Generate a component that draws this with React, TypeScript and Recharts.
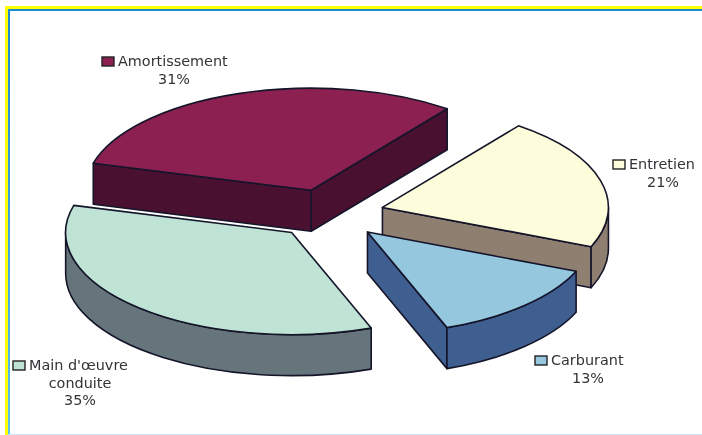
import { PieChart, Pie } from "recharts";

const categories = ["Entretien", "Amortissement", "Main d'œuvre conduite", "Carburant"];
const shares = [21, 31, 35, 13];

const chartData = categories.map((name, i) => ({ name, value: shares[i] }));

const topColors: Record<string, string> = {
  Entretien: "#fdfddc",
  Amortissement: "#8c2151",
  "Main d'œuvre conduite": "#bfe3d5",
  Carburant: "#95c7df",
};
const sideColors: Record<string, string> = {
  Entretien: "#8f7f71",
  Amortissement: "#4a1030",
  "Main d'œuvre conduite": "#65757b",
  Carburant: "#3f5f90",
};

// where each legend-like label sits, the source chart placed them by hand
const labelSpots: Record<string, { x: number; y: number; lines: string[]; cx: number }> = {
  Entretien: { x: 613, y: 160, lines: ["Entretien"], cx: 663 },
  Amortissement: { x: 102, y: 57, lines: ["Amortissement"], cx: 174 },
  "Main d'œuvre conduite": { x: 13, y: 361, lines: ["Main d'œuvre", "conduite"], cx: 80 },
  Carburant: { x: 535, y: 356, lines: ["Carburant"], cx: 588 },
};

const TILT = 0.452; // ellipse squash
const DEPTH = 41;
const EXPLODE = 0.245;
const INK = "#15152a";

function Wedge(props: any) {
  const { cx, cy, outerRadius, startAngle, endAngle, name } = props;
  const rx = outerRadius;
  const ry = outerRadius * TILT;
  const mid = (startAngle + endAngle) / 2;
  const rad = (a: number) => (a * Math.PI) / 180;
  const ox = cx + EXPLODE * rx * Math.cos(rad(mid));
  const oy = cy - EXPLODE * ry * Math.sin(rad(mid));
  const pt = (a: number) => ({ x: ox + rx * Math.cos(rad(a)), y: oy - ry * Math.sin(rad(a)) });
  const a = pt(startAngle);
  const b = pt(endAngle);
  const large = endAngle - startAngle > 180 ? 1 : 0;
  const top = `M${ox},${oy} L${a.x},${a.y} A${rx},${ry} 0 ${large} 0 ${b.x},${b.y} Z`;

  const face = (p: { x: number; y: number }, q: { x: number; y: number }) =>
    `M${p.x},${p.y} L${q.x},${q.y} L${q.x},${q.y + DEPTH} L${p.x},${p.y + DEPTH} Z`;

  // outer rim only shows on the lower half of the ellipse
  const rims: string[] = [];
  [[-180, 0], [180, 360]].forEach(([lo, hi]) => {
    const s = Math.max(startAngle, lo);
    const e = Math.min(endAngle, hi);
    if (e <= s) return;
    const p = pt(s);
    const q = pt(e);
    rims.push(
      `M${p.x},${p.y} A${rx},${ry} 0 0 0 ${q.x},${q.y} L${q.x},${q.y + DEPTH} A${rx},${ry} 0 0 1 ${p.x},${p.y + DEPTH} Z`
    );
  });

  const side = sideColors[name];
  const apex = { x: ox, y: oy };
  return (
    <g stroke={INK} strokeWidth={1.6} strokeLinejoin="round">
      {Math.cos(rad(startAngle)) > 0 && <path d={face(apex, a)} fill={side} />}
      {Math.cos(rad(endAngle)) < 0 && <path d={face(apex, b)} fill={side} />}
      {rims.map((d) => (
        <path key={d} d={d} fill={side} />
      ))}
      <path d={top} fill={topColors[name]} />
    </g>
  );
}

function SliceLabel(props: any) {
  const name = props.name ?? props.payload?.name;
  const spot = labelSpots[name];
  const text = { fontFamily: "DejaVu Sans", fontSize: 14.4, fill: "#333338" };
  return (
    <g>
      <rect x={spot.x} y={spot.y} width={12} height={9} fill={topColors[name]} stroke="#222" strokeWidth={1.4} />
      <text {...text} x={spot.x + 16} y={spot.y + 9}>
        {spot.lines[0]}
      </text>
      {spot.lines[1] && (
        <text {...text} x={spot.cx} y={spot.y + 27} textAnchor="middle">
          {spot.lines[1]}
        </text>
      )}
      <text {...text} x={spot.cx} y={spot.y + (spot.lines[1] ? 44 : 27)} textAnchor="middle">
        {props.value}%
      </text>
    </g>
  );
}

export default function App() {
  return (
    <div style={{ position: "absolute", left: 0, top: 0, width: 702, height: 435, background: "#fff", overflow: "hidden" }}>
      {/* scanned frame */}
      <div style={{ position: "absolute", left: 5, top: 6, right: 0, height: 3, background: "#ffff00" }} />
      <div style={{ position: "absolute", left: 5, top: 6, bottom: 0, width: 3, background: "#ffff00" }} />
      <div style={{ position: "absolute", left: 8, top: 9, right: 0, height: 1.5, background: "#1e88d0" }} />
      <div
        style={{
          position: "absolute",
          left: 8,
          top: 9,
          bottom: 0,
          width: 1.5,
          background: "linear-gradient(#1e88d0, #5cc0f2)",
        }}
      />
      <div style={{ position: "absolute", left: 8, bottom: 0, right: 0, height: 1.5, background: "#c6e6fa" }} />
      <div style={{ filter: "blur(0.4px)" }}>
        <PieChart width={702} height={435} margin={{ top: 0, right: 0, bottom: 0, left: 0 }}>
          <Pie
            data={chartData}
            dataKey="value"
            nameKey="name"
            cx={329}
            cy={214}
            outerRadius={226}
            startAngle={-22.6}
            endAngle={337.4}
            isAnimationActive={false}
            shape={(p: any) => <Wedge {...p} />}
            label={(p: any) => <SliceLabel {...p} />}
            labelLine={false}
          />
        </PieChart>
      </div>
    </div>
  );
}
